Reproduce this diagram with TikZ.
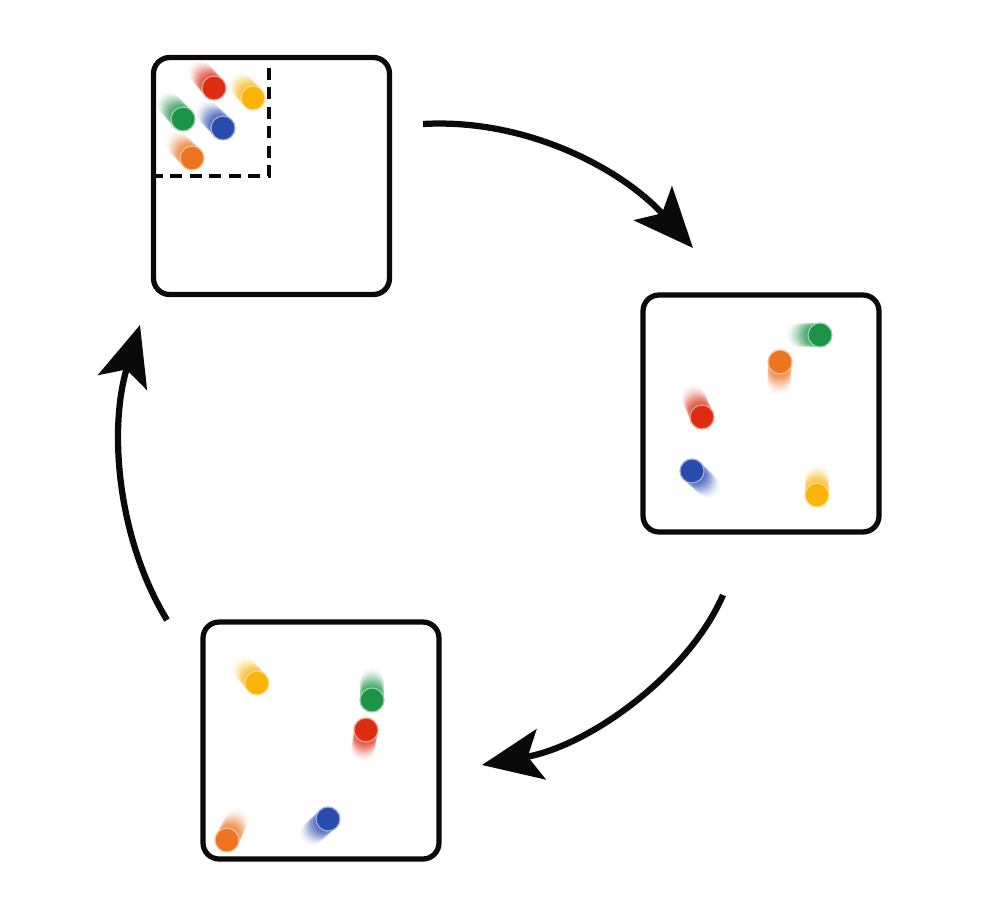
\documentclass[tikz,border=0pt]{standalone}
\usepackage{tikz}
\usetikzlibrary{arrows.meta}
\usetikzlibrary{calc}
\usepackage{xcolor}
\definecolor{myblack}{HTML}{0A0A0A}
\definecolor{ballred}{HTML}{DE2C10}
\definecolor{ballorange}{HTML}{EE7420}
\definecolor{ballyellow}{HTML}{FDB408}
\definecolor{ballgreen}{HTML}{1C9446}
\definecolor{ballblue}{HTML}{2A4BAE}
\tikzset{x=0.02cm, y=-0.02cm}
\tikzstyle{panel} = [draw=myblack, line width=0.105cm, rounded corners=0.32cm, minimum width=4.72cm, minimum height=4.74cm, inner sep=0pt]
\tikzstyle{window} = [draw=myblack, line width=0.09cm, dash pattern=on 0.24cm off 0.15cm]
\tikzstyle{cyc} = [draw=myblack, line width=0.125cm, -{Stealth[length=1.2cm, width=1.02cm, inset=0.27cm]}]
% ball with a fading motion trail: colour, centre, trail end
\newcommand{\ball}[3]{%
  \foreach \k [evaluate=\k as \op using 0.26*(1.05-\k)] in {0.1,0.2,...,1.0}
    \fill[#1, opacity=\op] ($(#2)!\k!(#3)$) circle[radius=0.24cm];
  \fill[#1, draw=#1!45!white, line width=0.7pt] (#2) circle[radius=0.24cm];
}

\begin{document}
\begin{tikzpicture}
  \useasboundingbox[fill=white] (0,0) rectangle (990,920);
  \node[panel] (start) at (271.5,176) {};
  \node[panel] (spread) at (761,413.5) {};
  \node[panel] (mixed) at (321,740.5) {};
  \draw[window] (start.west) -| ($(start.north west)+(118,0)$);
  % first panel
  \ball{ballred}{214,88}{200,72}
  \ball{ballyellow}{253,98}{240,84}
  \ball{ballgreen}{183,119}{168,103}
  \ball{ballblue}{223,128}{207,112}
  \ball{ballorange}{192,158}{177,143}
  % second panel
  \ball{ballgreen}{820,335}{797,335}
  \ball{ballorange}{780,362}{779,384}
  \ball{ballred}{702,417}{693,396}
  \ball{ballblue}{692,471}{709,487}
  \ball{ballyellow}{817,495}{817,476}
  % third panel
  \ball{ballyellow}{257,683}{244,668}
  \ball{ballgreen}{372,700}{372,679}
  \ball{ballred}{366,730}{363,750}
  \ball{ballblue}{328,819}{311,834}
  \ball{ballorange}{227,840}{237,820}
  % cycle arrows
  \coordinate (a1s) at (423,124);
  \coordinate (a1e) at (693,248);
  \coordinate (a2s) at (723,595);
  \coordinate (a2e) at (482,765);
  \coordinate (a3s) at (167,620);
  \coordinate (a3e) at (140,325);
  \draw[cyc] (a1s) .. controls (530,118) and (625,172) .. (a1e);
  \draw[cyc] (a2s) .. controls (690,672) and (592,745) .. (a2e);
  \draw[cyc] (a3s) .. controls (118,540) and (108,430) .. (a3e);
\end{tikzpicture}
\end{document}
